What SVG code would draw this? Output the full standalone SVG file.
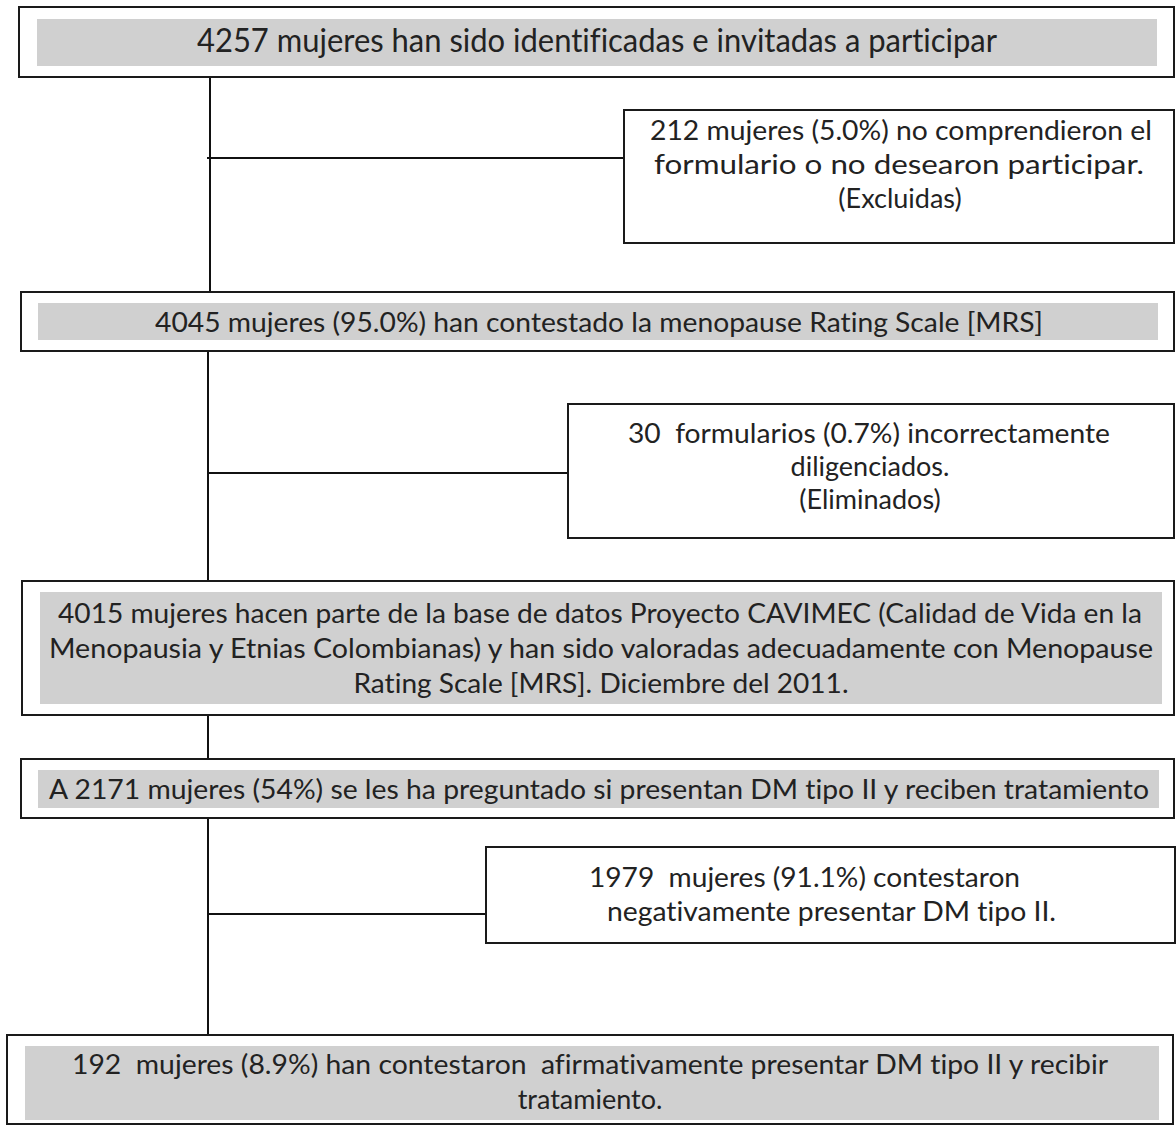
<svg xmlns="http://www.w3.org/2000/svg" width="1176" height="1126" viewBox="0 0 1176 1126">
<style>
.box{fill:#fff;stroke:#1a1a1a;stroke-width:2}
.band{fill:#d0d0d0}
.t{font-family:Lato,"Open Sans","Liberation Sans",sans-serif;font-size:27px;fill:#222;font-variant-ligatures:none;font-feature-settings:"liga" 0,"clig" 0;white-space:pre}
.c{text-anchor:middle}
.ln{stroke:#111;stroke-width:2;fill:none}
</style>
<rect width="1176" height="1126" fill="#fff"/>
<g id="connectors">
<line class="ln" x1="210" y1="77" x2="210" y2="292"/>
<line class="ln" x1="207" y1="158" x2="624" y2="158"/>
<line class="ln" x1="208" y1="351" x2="208" y2="581"/>
<line class="ln" x1="208" y1="473" x2="568" y2="473"/>
<line class="ln" x1="208" y1="715" x2="208" y2="759"/>
<line class="ln" x1="208" y1="818" x2="208" y2="1035"/>
<line class="ln" x1="208" y1="914" x2="486" y2="914"/>
</g>
<g id="n1">
<rect class="box" x="19" y="7" width="1155" height="70"/>
<rect class="band" x="37" y="19" width="1120" height="47"/>
<text class="t c" x="597" y="52" style="font-size:32px" textLength="800" lengthAdjust="spacingAndGlyphs">4257 mujeres han sido identificadas e invitadas a participar</text>
</g>
<g id="n2">
<rect class="box" x="624" y="110" width="550" height="133"/>
<text class="t c" x="901" y="140" textLength="502" lengthAdjust="spacingAndGlyphs">212 mujeres (5.0%) no comprendieron el</text>
<text class="t c" x="899" y="174" textLength="490" lengthAdjust="spacingAndGlyphs">formulario o no desearon participar.</text>
<text class="t c" x="900" y="208">(Excluidas)</text>
</g>
<g id="n3">
<rect class="box" x="21" y="292" width="1153" height="59"/>
<rect class="band" x="38" y="303" width="1120" height="37"/>
<text class="t c" x="599" y="332" textLength="888" lengthAdjust="spacingAndGlyphs">4045 mujeres (95.0%) han contestado la menopause Rating Scale [MRS]</text>
</g>
<g id="n4">
<rect class="box" x="568" y="404" width="606" height="134"/>
<text class="t" x="628" y="443" textLength="482" lengthAdjust="spacingAndGlyphs" xml:space="preserve">30  formularios (0.7%) incorrectamente</text>
<text class="t c" x="870" y="476">diligenciados.</text>
<text class="t c" x="870" y="509">(Eliminados)</text>
</g>
<g id="n5">
<rect class="box" x="22" y="581" width="1152" height="134"/>
<rect class="band" x="40" y="592" width="1122" height="112"/>
<text class="t c" x="600" y="623" textLength="1084" lengthAdjust="spacingAndGlyphs">4015 mujeres hacen parte de la base de datos Proyecto CAVIMEC (Calidad de Vida en la</text>
<text class="t c" x="601" y="658" textLength="1104" lengthAdjust="spacingAndGlyphs">Menopausia y Etnias Colombianas) y han sido valoradas adecuadamente con Menopause</text>
<text class="t c" x="601" y="693" textLength="495" lengthAdjust="spacingAndGlyphs">Rating Scale [MRS]. Diciembre del 2011.</text>
</g>
<g id="n6">
<rect class="box" x="21" y="759" width="1153" height="59"/>
<rect class="band" x="38" y="770" width="1121" height="38"/>
<text class="t c" x="599" y="799" textLength="1100" lengthAdjust="spacingAndGlyphs">A 2171 mujeres (54%) se les ha preguntado si presentan DM tipo II y reciben tratamiento</text>
</g>
<g id="n7">
<rect class="box" x="486" y="847" width="689" height="96"/>
<text class="t" x="589" y="887" textLength="431" lengthAdjust="spacingAndGlyphs" xml:space="preserve">1979  mujeres (91.1%) contestaron</text>
<text class="t" x="607" y="921" textLength="449" lengthAdjust="spacingAndGlyphs">negativamente presentar DM tipo II.</text>
</g>
<g id="n8">
<rect class="box" x="7" y="1035" width="1166" height="89"/>
<rect class="band" x="25" y="1046" width="1134" height="74"/>
<text class="t c" x="590" y="1074" textLength="1036" lengthAdjust="spacingAndGlyphs" xml:space="preserve">192  mujeres (8.9%) han contestaron  afirmativamente presentar DM tipo II y recibir</text>
<text class="t c" x="590" y="1109">tratamiento.</text>
</g>
</svg>
